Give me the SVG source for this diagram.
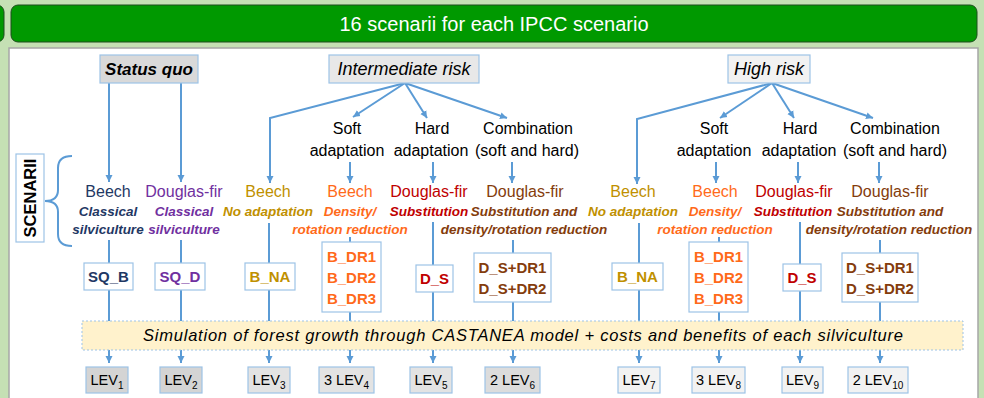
<svg xmlns="http://www.w3.org/2000/svg" width="984" height="398" viewBox="0 0 984 398">
<defs>
<marker id="ah" markerUnits="userSpaceOnUse" markerWidth="8" markerHeight="8" refX="7" refY="4" orient="auto">
<path d="M0,0.5 L7,4 L0,7.5 z" fill="#5b9bd5"/>
</marker>
<style>
text{font-family:"Liberation Sans",Arial,sans-serif;}
.ln{fill:none;stroke:#5b9bd5;stroke-width:2;}
.ar{marker-end:url(#ah);}
.hdr{stroke:#9dc3e6;stroke-width:1.2;}
.cbox{fill:#ffffff;stroke:#9dc3e6;stroke-width:1.2;}
.lev{stroke:#9dc3e6;stroke-width:1.2;}
.lbl{font-size:16px;fill:#000;text-anchor:middle;}
.sp{font-size:16px;text-anchor:middle;}
.sub{font-size:13.5px;font-weight:bold;font-style:italic;text-anchor:middle;}
.code{font-size:15px;font-weight:bold;text-anchor:middle;}
.levt{font-size:14.5px;fill:#000;text-anchor:middle;}
.navy{fill:#1f3864;} .purple{fill:#7030a0;} .gold{fill:#bf9000;} .orange{fill:#ff6a1a;} .red{fill:#c00000;} .brown{fill:#843c0c;}
</style>
</defs>
<rect x="0" y="0" width="984" height="398" fill="#c5e0b4"/>
<g id="banner">
<rect x="-20" y="5" width="24" height="37" rx="7" fill="#009900" stroke="#1e4d1e" stroke-width="1"/>
<rect x="11" y="5" width="966" height="37" rx="7" fill="#009900" stroke="#1e4d1e" stroke-width="1"/>
<text x="494" y="31" font-size="20" fill="#ffffff" text-anchor="middle">16 scenarii for each IPCC scenario</text>
</g>
<rect x="9" y="48" width="969" height="360" fill="#ffffff" stroke="#a6a6a6" stroke-width="1.5"/>

<g id="connectors">
<path class="ln ar" d="M109,83 V182"/>
<path class="ln ar" d="M181,83 V182"/>
<path class="ln ar" d="M405,83 L270,118 V183"/>
<path class="ln ar" d="M405,83 L353,117"/>
<path class="ln ar" d="M405,83 L427,118"/>
<path class="ln ar" d="M405,83 L507,118"/>
<path class="ln ar" d="M350,162 V183"/>
<path class="ln ar" d="M433,162 V183"/>
<path class="ln ar" d="M512,162 V183"/>
<path class="ln ar" d="M772,83 L637,119 V184"/>
<path class="ln ar" d="M772,83 L720,118"/>
<path class="ln ar" d="M772,83 L794,118"/>
<path class="ln ar" d="M772,83 L873,118"/>
<path class="ln ar" d="M716,162 V183"/>
<path class="ln ar" d="M798,162 V183"/>
<path class="ln ar" d="M879,162 V183"/>
<path class="ln ar" d="M109,240 V363"/>
<path class="ln ar" d="M181,240 V363"/>
<path class="ln ar" d="M269,223 V363"/>
<path class="ln ar" d="M350,237 V363"/>
<path class="ln ar" d="M433,222 V363"/>
<path class="ln ar" d="M513,240 V363"/>
<path class="ln ar" d="M639,223 V363"/>
<path class="ln ar" d="M719,237 V363"/>
<path class="ln ar" d="M800,222 V363"/>
<path class="ln ar" d="M880,240 V363"/>
</g>

<g id="status-quo">
<rect class="hdr" x="100" y="55" width="98" height="28" fill="#d9d9d9"/>
<text x="149" y="75" font-size="17" font-weight="bold" font-style="italic" text-anchor="middle" fill="#000">Status quo</text>
</g>
<g id="intermediate-risk">
<rect class="hdr" x="329" y="55" width="150" height="28" fill="#e8e8e8"/>
<text x="404" y="75" font-size="18" font-style="italic" text-anchor="middle" fill="#000">Intermediate risk</text>
</g>
<g id="high-risk">
<rect class="hdr" x="728" y="55" width="82" height="28" fill="#f2f2f2"/>
<text x="769" y="75" font-size="18" font-style="italic" text-anchor="middle" fill="#000">High risk</text>
</g>

<g id="int-soft"><text class="lbl" x="347" y="134">Soft</text><text class="lbl" x="347" y="156">adaptation</text></g>
<g id="int-hard"><text class="lbl" x="432" y="134">Hard</text><text class="lbl" x="431" y="156">adaptation</text></g>
<g id="int-comb"><text class="lbl" x="528" y="134">Combination</text><text class="lbl" x="527" y="156">(soft and hard)</text></g>
<g id="high-soft"><text class="lbl" x="714" y="134">Soft</text><text class="lbl" x="714" y="156">adaptation</text></g>
<g id="high-hard"><text class="lbl" x="800" y="134">Hard</text><text class="lbl" x="799" y="156">adaptation</text></g>
<g id="high-comb"><text class="lbl" x="895" y="134">Combination</text><text class="lbl" x="895" y="156">(soft and hard)</text></g>

<g id="scenarii">
<rect x="16" y="154" width="28" height="88" fill="#ffffff" stroke="#9dc3e6" stroke-width="1.2"/>
<text x="0" y="0" transform="translate(36,198) rotate(-90)" font-size="16.5" font-weight="bold" text-anchor="middle" fill="#000">SCENARII</text>
<path class="ln" d="M72,156 Q58,156 58,168 L58,190 Q58,201 45,201 Q58,201 58,212 L58,234 Q58,246 72,246"/>
</g>

<g id="sq-beech">
<text class="sp navy" x="108" y="197">Beech</text>
<text class="sub navy" x="108" y="216">Classical</text>
<text class="sub navy" x="108" y="234">silviculture</text>
</g>
<g id="sq-douglas">
<text class="sp purple" x="184" y="197">Douglas-fir</text>
<text class="sub purple" x="184" y="216">Classical</text>
<text class="sub purple" x="184" y="234">silviculture</text>
</g>
<g id="int-beech-na">
<text class="sp gold" x="268" y="197">Beech</text>
<text class="sub gold" x="268" y="216">No adaptation</text>
</g>
<g id="int-beech-dr">
<text class="sp orange" x="350" y="197">Beech</text>
<text class="sub orange" x="350" y="216">Density/</text>
<text class="sub orange" x="350" y="234">rotation reduction</text>
</g>
<g id="int-douglas-s">
<text class="sp red" x="429" y="197">Douglas-fir</text>
<text class="sub red" x="429" y="216">Substitution</text>
</g>
<g id="int-douglas-sdr">
<text class="sp brown" x="525" y="197">Douglas-fir</text>
<text class="sub brown" x="524" y="216">Substitution and</text>
<text class="sub brown" x="524" y="234">density/rotation reduction</text>
</g>
<g id="high-beech-na">
<text class="sp gold" x="633" y="197">Beech</text>
<text class="sub gold" x="633" y="216">No adaptation</text>
</g>
<g id="high-beech-dr">
<text class="sp orange" x="715" y="197">Beech</text>
<text class="sub orange" x="715" y="216">Density/</text>
<text class="sub orange" x="715" y="234">rotation reduction</text>
</g>
<g id="high-douglas-s">
<text class="sp red" x="794" y="197">Douglas-fir</text>
<text class="sub red" x="793" y="216">Substitution</text>
</g>
<g id="high-douglas-sdr">
<text class="sp brown" x="890" y="197">Douglas-fir</text>
<text class="sub brown" x="890" y="216">Substitution and</text>
<text class="sub brown" x="889" y="234">density/rotation reduction</text>
</g>

<g id="code-sq-b"><rect class="cbox" x="84" y="263" width="49" height="27"/><text class="code navy" x="108.5" y="282">SQ_B</text></g>
<g id="code-sq-d"><rect class="cbox" x="155" y="263" width="50" height="27"/><text class="code purple" x="180" y="282">SQ_D</text></g>
<g id="code-int-bna"><rect class="cbox" x="245" y="263" width="50" height="27"/><text class="code gold" x="270" y="282">B_NA</text></g>
<g id="code-int-bdr"><rect class="cbox" x="322" y="242" width="59" height="70"/>
<text class="code orange" x="351.5" y="262">B_DR1</text><text class="code orange" x="351.5" y="283">B_DR2</text><text class="code orange" x="351.5" y="304">B_DR3</text></g>
<g id="code-int-ds"><rect class="cbox" x="416" y="265" width="37" height="27"/><text class="code red" x="434.5" y="284">D_S</text></g>
<g id="code-int-dsdr"><rect class="cbox" x="474" y="253" width="77" height="49"/>
<text class="code brown" x="512.5" y="273">D_S+DR1</text><text class="code brown" x="512.5" y="294">D_S+DR2</text></g>
<g id="code-high-bna"><rect class="cbox" x="612" y="263" width="51" height="27"/><text class="code gold" x="637.5" y="282">B_NA</text></g>
<g id="code-high-bdr"><rect class="cbox" x="689" y="242" width="59" height="70"/>
<text class="code orange" x="718.5" y="262">B_DR1</text><text class="code orange" x="718.5" y="283">B_DR2</text><text class="code orange" x="718.5" y="304">B_DR3</text></g>
<g id="code-high-ds"><rect class="cbox" x="783" y="264" width="38" height="27"/><text class="code red" x="802" y="283">D_S</text></g>
<g id="code-high-dsdr"><rect class="cbox" x="842" y="253" width="76" height="49"/>
<text class="code brown" x="880" y="273">D_S+DR1</text><text class="code brown" x="880" y="294">D_S+DR2</text></g>

<g id="simulation">
<rect x="82" y="321" width="881" height="29" fill="#fff2cc" stroke="#9dc3e6" stroke-width="1" stroke-dasharray="2,2"/>
<text x="523" y="341" font-size="16.5" font-style="italic" text-anchor="middle" fill="#000" textLength="760">Simulation of forest growth through CASTANEA model + costs and benefits of each silviculture</text>
</g>

<g id="lev1"><rect class="lev" x="86" y="367" width="42" height="26" fill="#d4d4d4"/><text class="levt" x="107" y="385">LEV<tspan font-size="10" dy="4">1</tspan></text></g>
<g id="lev2"><rect class="lev" x="160" y="367" width="42" height="26" fill="#d4d4d4"/><text class="levt" x="181" y="385">LEV<tspan font-size="10" dy="4">2</tspan></text></g>
<g id="lev3"><rect class="lev" x="248" y="367" width="42" height="26" fill="#e3e3e3"/><text class="levt" x="269" y="385">LEV<tspan font-size="10" dy="4">3</tspan></text></g>
<g id="lev4"><rect class="lev" x="319" y="367" width="55" height="26" fill="#e3e3e3"/><text class="levt" x="346.5" y="385">3 LEV<tspan font-size="10" dy="4">4</tspan></text></g>
<g id="lev5"><rect class="lev" x="410" y="367" width="42" height="26" fill="#e3e3e3"/><text class="levt" x="431" y="385">LEV<tspan font-size="10" dy="4">5</tspan></text></g>
<g id="lev6"><rect class="lev" x="485" y="367" width="55" height="26" fill="#dcdcdc"/><text class="levt" x="512.5" y="385">2 LEV<tspan font-size="10" dy="4">6</tspan></text></g>
<g id="lev7"><rect class="lev" x="618" y="367" width="42" height="26" fill="#f2f2f2"/><text class="levt" x="639" y="385">LEV<tspan font-size="10" dy="4">7</tspan></text></g>
<g id="lev8"><rect class="lev" x="692" y="367" width="53" height="26" fill="#f2f2f2"/><text class="levt" x="718.5" y="385">3 LEV<tspan font-size="10" dy="4">8</tspan></text></g>
<g id="lev9"><rect class="lev" x="782" y="367" width="41" height="26" fill="#f2f2f2"/><text class="levt" x="802.5" y="385">LEV<tspan font-size="10" dy="4">9</tspan></text></g>
<g id="lev10"><rect class="lev" x="848" y="367" width="60" height="26" fill="#f2f2f2"/><text class="levt" x="878" y="385">2 LEV<tspan font-size="10" dy="4">10</tspan></text></g>
</svg>
